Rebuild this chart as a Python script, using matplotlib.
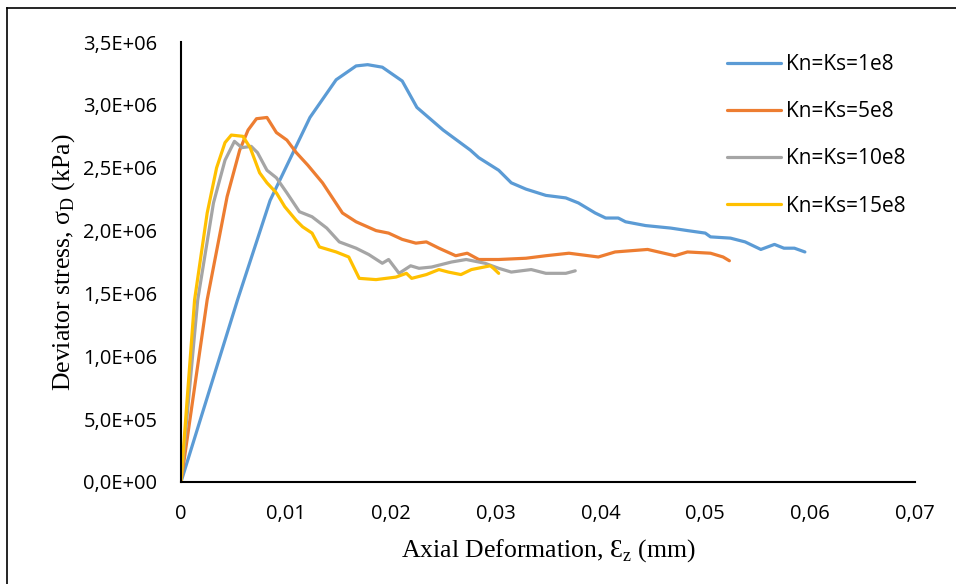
import matplotlib.pyplot as plt
from matplotlib.lines import Line2D
from matplotlib.ticker import FuncFormatter, MultipleLocator

plt.rcParams['mathtext.fontset'] = 'custom'
plt.rcParams['mathtext.rm'] = 'Liberation Serif'

# Kn=Ks=1e8
x_1e8 = [0, 0.0054, 0.0085, 0.0123, 0.0148, 0.0167, 0.0178, 0.0192, 0.0211, 0.0225,
         0.025, 0.0276, 0.0284, 0.0303, 0.0315, 0.0329, 0.0348, 0.0367, 0.0379, 0.0395,
         0.0405, 0.0417, 0.0424, 0.0443, 0.0467, 0.0483, 0.050, 0.0505, 0.0524, 0.0538,
         0.0553, 0.0566, 0.0575, 0.0585, 0.0595]
y_1e8 = [0, 1.45e6, 2.24e6, 2.90e6, 3.20e6, 3.31e6, 3.32e6, 3.30e6, 3.19e6, 2.98e6,
         2.80e6, 2.64e6, 2.58e6, 2.48e6, 2.38e6, 2.33e6, 2.28e6, 2.26e6, 2.22e6, 2.14e6,
         2.10e6, 2.10e6, 2.07e6, 2.04e6, 2.02e6, 2.00e6, 1.98e6, 1.95e6, 1.94e6, 1.91e6,
         1.85e6, 1.89e6, 1.86e6, 1.86e6, 1.83e6]

# Kn=Ks=5e8
x_5e8 = [0, 0.0025, 0.0044, 0.0056, 0.0064, 0.0072, 0.0082, 0.0091, 0.0101, 0.011,
         0.0121, 0.0135, 0.0154, 0.0167, 0.0186, 0.0198, 0.0211, 0.0224, 0.0234, 0.0246,
         0.0262, 0.0273, 0.0284, 0.0303, 0.0329, 0.0348, 0.037, 0.0398, 0.0414, 0.0445,
         0.0471, 0.0483, 0.0505, 0.0517, 0.0523]
y_5e8 = [0, 1.45e6, 2.27e6, 2.64e6, 2.80e6, 2.89e6, 2.90e6, 2.78e6, 2.72e6, 2.62e6,
         2.52e6, 2.38e6, 2.14e6, 2.07e6, 2.00e6, 1.98e6, 1.93e6, 1.90e6, 1.91e6, 1.86e6,
         1.80e6, 1.82e6, 1.77e6, 1.77e6, 1.78e6, 1.80e6, 1.82e6, 1.79e6, 1.83e6, 1.85e6,
         1.80e6, 1.83e6, 1.82e6, 1.79e6, 1.76e6]

# Kn=Ks=10e8
x_10e8 = [0, 0.0016, 0.0031, 0.0042, 0.0051, 0.0058, 0.0067, 0.0073, 0.0082, 0.0091,
          0.0101, 0.0113, 0.0125, 0.0139, 0.0151, 0.0167, 0.0179, 0.0192, 0.0198, 0.0208,
          0.0219, 0.0227, 0.0239, 0.0258, 0.0272, 0.029, 0.0303, 0.0315, 0.0334, 0.0348,
          0.0367, 0.0376]
y_10e8 = [0, 1.45e6, 2.22e6, 2.56e6, 2.71e6, 2.66e6, 2.67e6, 2.62e6, 2.48e6, 2.42e6,
          2.30e6, 2.15e6, 2.11e6, 2.02e6, 1.91e6, 1.86e6, 1.81e6, 1.74e6, 1.77e6, 1.66e6,
          1.72e6, 1.70e6, 1.71e6, 1.75e6, 1.77e6, 1.74e6, 1.70e6, 1.67e6, 1.69e6, 1.66e6,
          1.66e6, 1.68e6]

# Kn=Ks=15e8
x_15e8 = [0, 0.0013, 0.0025, 0.0034, 0.0042, 0.0048, 0.0059, 0.0066, 0.0075, 0.0082,
          0.0091, 0.0099, 0.011, 0.0116, 0.0125, 0.0132, 0.0148, 0.016, 0.017, 0.0186,
          0.0205, 0.0215, 0.022, 0.0234, 0.0246, 0.0255, 0.0267, 0.0277, 0.0295, 0.0298,
          0.0303]
y_15e8 = [0, 1.45e6, 2.14e6, 2.50e6, 2.70e6, 2.76e6, 2.75e6, 2.66e6, 2.46e6, 2.38e6,
          2.30e6, 2.19e6, 2.08e6, 2.03e6, 1.98e6, 1.87e6, 1.83e6, 1.79e6, 1.62e6, 1.61e6,
          1.63e6, 1.66e6, 1.62e6, 1.65e6, 1.69e6, 1.67e6, 1.65e6, 1.69e6, 1.72e6, 1.70e6,
          1.66e6]

labels = ['Kn=Ks=1e8', 'Kn=Ks=5e8', 'Kn=Ks=10e8', 'Kn=Ks=15e8']
colors = ['#5B9BD5', '#ED7D31', '#A5A5A5', '#FFC000']

fig = plt.figure(figsize=(9.56, 5.84), dpi=100)
ax = fig.add_axes([0.1893, 0.1747, 0.7678, 0.7533])

series = [(x_1e8, y_1e8), (x_5e8, y_5e8), (x_10e8, y_10e8), (x_15e8, y_15e8)]
for (xs, ys), lab, col in zip(series, labels, colors):
    ax.plot(xs, ys, color=col, lw=2.3, label=lab, solid_capstyle='round')

ax.set_xlim(0, 0.07)
ax.set_ylim(0, 3.5e6)
ax.xaxis.set_major_locator(MultipleLocator(0.01))
ax.yaxis.set_major_locator(MultipleLocator(5e5))


def fmt_x(v, pos):
    if abs(v) < 1e-12:
        return '0'
    return f'{v:.2f}'.replace('.', ',')


def fmt_y(v, pos):
    return f'{v:.1E}'.replace('.', ',')


ax.xaxis.set_major_formatter(FuncFormatter(fmt_x))
ax.yaxis.set_major_formatter(FuncFormatter(fmt_y))
ax.tick_params(length=0, labelsize=14.5)
ax.tick_params(axis='x', pad=16)
ax.tick_params(axis='y', pad=17)
for lbl in ax.get_xticklabels() + ax.get_yticklabels():
    lbl.set_family(['Open Sans', 'DejaVu Sans'])

for s in ['top', 'right']:
    ax.spines[s].set_visible(False)
for s in ['left', 'bottom']:
    ax.spines[s].set_linewidth(1.5)

ax.set_xlabel('Axial Deformation, Ɛ$_\\mathregular{z}$ (mm)', fontsize=18.5,
              family=['Liberation Serif', 'DejaVu Serif'], labelpad=9)
ax.set_ylabel('Deviator stress, σ$_\\mathregular{D}$ (kPa)', fontsize=18.5,
              family=['Liberation Serif', 'DejaVu Serif'], labelpad=4.5)

leg = ax.legend(loc='upper left', bbox_to_anchor=(727 / 956, 1 - 54 / 584),
                bbox_transform=fig.transFigure, frameon=False,
                borderpad=0, borderaxespad=0,
                handlelength=2.6, handletextpad=0.25, labelspacing=1.26,
                prop={'family': 'Open Sans', 'size': 15})

# outer frame edges
fig.add_artist(Line2D([7 / 956, 7 / 956], [0, 1 - 8 / 584], color='black', lw=1.2))
fig.add_artist(Line2D([7 / 956, 1], [1 - 8 / 584, 1 - 8 / 584], color='black', lw=1.2))

fig.savefig('out.png', dpi=100)
plt.close(fig)
